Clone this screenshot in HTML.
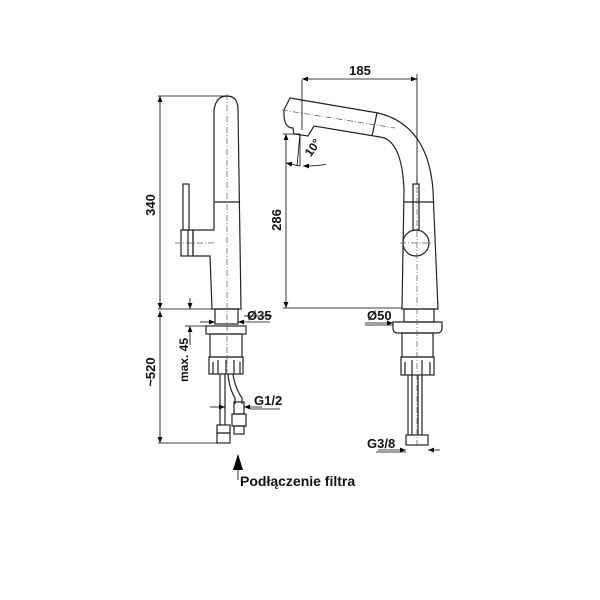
<!DOCTYPE html>
<html><head><style>body{margin:0;background:#fff}svg{display:block}text{font-family:"Liberation Sans",sans-serif;font-weight:bold;fill:#111}</style></head><body>
<svg width="600" height="600" viewBox="0 0 600 600" xmlns="http://www.w3.org/2000/svg">
<defs><marker id="a" viewBox="0 0 10 10" refX="10" refY="5" markerWidth="9" markerHeight="6" orient="auto-start-reverse" markerUnits="userSpaceOnUse"><path d="M0,1 L10,5 L0,9z" fill="#000"/></marker></defs>
<g fill="none" stroke="#222" stroke-width="1.2">
<path d="M214,110 Q216,96 227,96 Q238,96 238,110 L241,309 L212,309 L210,256 L193,256 L193,230 L214,230 Z"/>
<line x1="214" y1="202" x2="240" y2="202"/>
<rect x="183" y="184" width="6" height="46"/>
<rect x="181" y="230" width="12" height="26"/>
<line x1="188" y1="230" x2="188" y2="256"/>
<rect x="215" y="309" width="23" height="15"/>
<rect x="206" y="326" width="40" height="8"/>
<rect x="210" y="334" width="32" height="23"/>
<rect x="209" y="357" width="34" height="17"/>
<path d="M213,374 V362 M218,374 V360 M226,374 V360 M234,374 V360 M240,374 V362"/>
<path d="M220,374 V425 M225,374 V425"/>
<rect x="217" y="425" width="13" height="8"/><rect x="217" y="433" width="13" height="10"/>
<path d="M228,374 Q229,388 235,398 V404 M233,374 Q235,388 242,398 V404"/>
<rect x="234" y="402" width="10" height="12"/><rect x="232" y="414" width="14" height="12"/><rect x="234" y="426" width="10" height="8"/>
<path d="M290,98 L378,113 Q428,125 433,190 L438,309 L402,309 L404,190 Q402,140 380,137 L314,126 L308,136 L294,134 L293,128 Q283,128 284,110 Z"/>
<line x1="377" y1="113" x2="372" y2="136" />
<line x1="404" y1="202" x2="434" y2="202"/>
<rect x="413" y="184" width="6" height="46"/>
<circle cx="416" cy="243" r="13"/>
<rect x="404" y="309" width="30" height="13"/>
<path d="M393,322 H442 V328 Q442,333 437,333 H398 Q393,333 393,328 Z"/>
<rect x="402" y="333" width="31" height="24"/>
<rect x="401" y="357" width="33" height="18"/>
<path d="M405,375 V362 M412,375 V360 M422,375 V360 M430,375 V362"/>
<path d="M408,375 V435 M412,375 V435 M418,375 V435 M422,375 V435"/>
<rect x="406" y="435" width="22" height="10"/>
</g>
<g stroke="#555" stroke-width="0.7" stroke-dasharray="6,2,1,2" fill="none">
<line x1="227" y1="94" x2="227" y2="372"/><line x1="175" y1="243" x2="215" y2="243"/>
<line x1="417" y1="176" x2="417" y2="446"/><line x1="400" y1="243" x2="432" y2="243"/>
<line x1="282" y1="110" x2="395" y2="128"/>
</g>
<g stroke="#000" stroke-width="0.8" fill="none">
<line x1="158" y1="96" x2="228" y2="96"/><line x1="158" y1="309" x2="212" y2="309"/>
<line x1="160" y1="96" x2="160" y2="309" marker-start="url(#a)" marker-end="url(#a)"/>
<line x1="160" y1="311" x2="160" y2="443" marker-start="url(#a)" marker-end="url(#a)"/>
<line x1="158" y1="443" x2="218" y2="443"/>
<line x1="185" y1="326" x2="206" y2="326"/>
<line x1="190" y1="298" x2="190" y2="309" marker-end="url(#a)"/>
<line x1="190" y1="345" x2="190" y2="326" marker-end="url(#a)"/>
<line x1="200" y1="322" x2="215" y2="322" marker-end="url(#a)"/>
<line x1="270" y1="322" x2="238" y2="322" marker-end="url(#a)"/>
<line x1="244" y1="316" x2="272" y2="316"/>
<line x1="210" y1="407" x2="225" y2="407" marker-end="url(#a)"/>
<line x1="262" y1="407" x2="244" y2="407" marker-end="url(#a)"/>
<line x1="250" y1="409" x2="280" y2="409"/>
<line x1="238" y1="480" x2="238" y2="468"/>
<line x1="302" y1="80" x2="302" y2="130"/><line x1="417" y1="74" x2="417" y2="184"/>
<line x1="302" y1="79" x2="417" y2="79" marker-start="url(#a)" marker-end="url(#a)"/>
<line x1="283" y1="134" x2="300" y2="134"/><line x1="283" y1="308" x2="402" y2="308"/>
<line x1="286" y1="134" x2="286" y2="308" marker-start="url(#a)" marker-end="url(#a)"/>
<line x1="300" y1="134" x2="300" y2="166"/><line x1="300" y1="134" x2="297" y2="166"/>
<path d="M286,163 L300,166" marker-start="url(#a)"/>
<path d="M326,164 Q320,166 303,166" marker-end="url(#a)"/>
<line x1="365" y1="323" x2="393" y2="323" marker-end="url(#a)"/>
<line x1="365" y1="325" x2="393" y2="325"/>
<line x1="378" y1="450" x2="406" y2="450" marker-end="url(#a)"/>
<line x1="440" y1="450" x2="428" y2="450" marker-end="url(#a)"/>
<line x1="376" y1="452" x2="406" y2="452"/>
</g>
<path d="M238,454 L233,470 L243,470 Z" fill="#000"/>
<g font-size="13">
<text x="155" y="205" transform="rotate(-90 155 205)" text-anchor="middle">340</text>
<text x="155" y="372" transform="rotate(-90 155 372)" text-anchor="middle">~520</text>
<text x="188" y="360" transform="rotate(-90 188 360)" text-anchor="middle" font-size="12">max. 45</text>
<text x="247" y="320">Ø35</text>
<text x="254" y="405">G1/2</text>
<text x="360" y="75" text-anchor="middle">185</text>
<text x="281" y="220" transform="rotate(-90 281 220)" text-anchor="middle">286</text>
<text x="316" y="150" transform="rotate(-55 316 150)" text-anchor="middle" font-size="12">10°</text>
<text x="367" y="320">Ø50</text>
<text x="367" y="448">G3/8</text>
<text x="240" y="486" font-size="14">Podłączenie filtra</text>
</g>
</svg>
</body></html>
